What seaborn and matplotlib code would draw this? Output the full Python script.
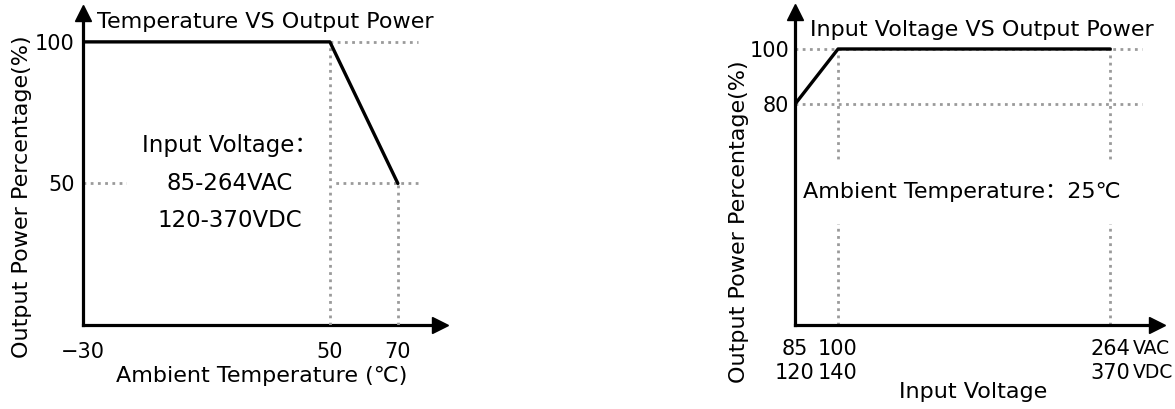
import numpy as np
import pandas as pd
import matplotlib
matplotlib.use("Agg")
import matplotlib.pyplot as plt
import seaborn as sns

# Derating curve data
temp = [-30, 50, 70]
temp_power = [100, 100, 50]
temp_ticks = [-30, 50, 70]
temp_tick_labels = ["\u221230", "50", "70"]
temp_yticks = [50, 100]

volt = [85, 100, 264]
volt_power = [80, 100, 100]
volt_ticks = [85, 100, 264]
volt_tick_labels = ["85\n120", "100\n140", "264\n370"]
volt_yticks = [80, 100]

sns.set_style("white")
plt.rcParams['font.family'] = ['DejaVu Sans', 'Noto Sans CJK SC']
plt.rcParams['text.color'] = 'black'
plt.rcParams['axes.labelcolor'] = 'black'
plt.rcParams['xtick.color'] = 'black'
plt.rcParams['ytick.color'] = 'black'


def piecewise_scale(knots, pos):
    fwd = lambda x: np.interp(x, knots, pos)
    inv = lambda y: np.interp(y, pos, knots)
    return fwd, inv


def style_axes(ax):
    for s in ['top', 'right']:
        ax.spines[s].set_visible(False)
    for s in ['left', 'bottom']:
        ax.spines[s].set_linewidth(2.3)
        ax.spines[s].set_color('black')
    # arrow heads at the axis ends
    ax.plot(1, 0, ">k", ms=11, transform=ax.transAxes, clip_on=False)
    ax.plot(0, 1, "^k", ms=11, transform=ax.transAxes, clip_on=False)
    ax.tick_params(length=0, labelsize=15)
    ax.grid(False)


fig = plt.figure(figsize=(11.75, 4.09), dpi=100)
dot = dict(color='#9a9a9a', linestyle=(0, (1, 1.6)), linewidth=2, zorder=1)

# ---------------- Left: temperature derating ----------------
ax1 = fig.add_axes([83 / 1175, 1 - 325 / 409, 357 / 1175, 312 / 409])
fwd, inv = piecewise_scale([-30, 50, 70, 100], [0, 247, 315, 417])
ax1.set_xscale('function', functions=(fwd, inv))
ax1.set_xlim(-30, 82.4)
ax1.set_ylim(0, 110.2)

ax1.hlines(100, temp[1], 76, **dot)
ax1.hlines(50, temp[0], 77, **dot)
# vertical guides stay visible above the text box
ax1.vlines(temp[1], 0, 100, **{**dot, 'zorder': 3})
ax1.vlines(temp[2], 0, 50, **{**dot, 'zorder': 3})

df1 = pd.DataFrame({'t': temp, 'p': temp_power})
sns.lineplot(data=df1, x='t', y='p', ax=ax1, color='black', linewidth=2.4,
             sort=False, zorder=4)
style_axes(ax1)
ax1.set_xticks(temp_ticks)
ax1.set_xticklabels(temp_tick_labels)
ax1.set_yticks(temp_yticks)
ax1.tick_params(axis='x', pad=12)
ax1.tick_params(axis='y', pad=6)
ax1.minorticks_off()

ax1.set_xlabel("Ambient Temperature (\u2103)", fontsize=16)
ax1.xaxis.set_label_coords(0.50, -0.131)
ax1.set_ylabel("Output Power Percentage(%)", fontsize=16)
ax1.yaxis.set_label_coords(-0.142, 0.41)
ax1.text(0.039, 0.971, "Temperature VS Output Power", transform=ax1.transAxes,
         fontsize=16, ha='left', va='center')
ax1.text(0.412, 0.455, "Input Voltage\uff1a\n85-264VAC\n120-370VDC",
         transform=ax1.transAxes, fontsize=16.5, ha='center', va='center',
         linespacing=1.8, zorder=2,
         bbox=dict(facecolor='white', edgecolor='none', pad=11))

# ---------------- Right: input voltage derating ----------------
ax2 = fig.add_axes([795 / 1175, 1 - 325 / 409, 362 / 1175, 313 / 409])
fwd2, inv2 = piecewise_scale([85, 100, 264, 300], [0, 43, 315, 375])
ax2.set_xscale('function', functions=(fwd2, inv2))
ax2.set_xlim(85, 292)
ax2.set_ylim(0, 113.4)

ax2.hlines(100, volt[0], 283, **dot)
ax2.hlines(80, volt[0], 283, **dot)
ax2.vlines(volt[1], 0, 100, **dot)
ax2.vlines(volt[2], 0, 100, **dot)

df2 = pd.DataFrame({'v': volt, 'p': volt_power})
sns.lineplot(data=df2, x='v', y='p', ax=ax2, color='black', linewidth=2.4,
             sort=False, zorder=4)
style_axes(ax2)
ax2.set_xticks(volt_ticks)
ax2.set_xticklabels(volt_tick_labels, linespacing=1.25)
ax2.set_yticks(volt_yticks)
ax2.tick_params(axis='x', pad=10)
ax2.tick_params(axis='y', pad=4)
ax2.minorticks_off()
ax2.annotate("VAC\nVDC", xy=(volt[2], 0), xycoords=('data', 'axes fraction'),
             xytext=(16.5, -10), textcoords='offset points', ha='left', va='top',
             fontsize=13.5, linespacing=1.35)

ax2.set_xlabel("Input Voltage", fontsize=16)
ax2.xaxis.set_label_coords(0.492, -0.182)
ax2.set_ylabel("Output Power Percentage(%)", fontsize=16)
ax2.yaxis.set_label_coords(-0.127, 0.33)
ax2.text(0.041, 0.942, "Input Voltage VS Output Power", transform=ax2.transAxes,
         fontsize=16, ha='left', va='center')
ax2.text(0.461, 0.425, "Ambient Temperature\uff1a25\u2103", transform=ax2.transAxes,
         fontsize=16, ha='center', va='center', zorder=2,
         bbox=dict(facecolor='white', edgecolor='none', pad=16))

fig.savefig("out.png", dpi=100)
